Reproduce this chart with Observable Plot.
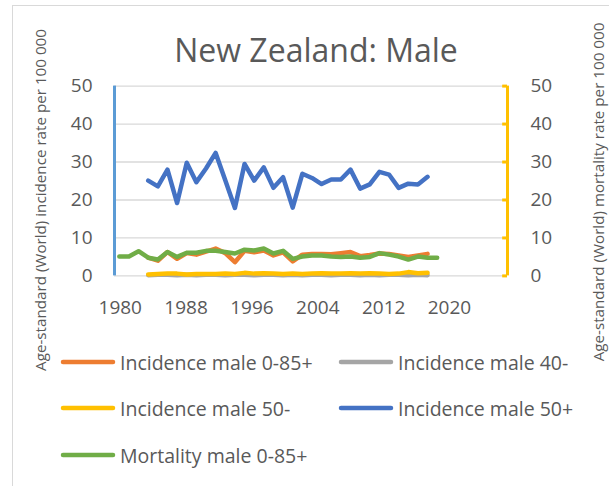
<!DOCTYPE html>
<html><head><meta charset="utf-8">
<script src="https://cdn.jsdelivr.net/npm/d3@7"></script>
<script src="https://cdn.jsdelivr.net/npm/@observablehq/plot@0.6"></script>
<style>
body{margin:0;background:#fff;}
#wrap{position:relative;width:609px;height:486px;overflow:hidden;font-family:"Open Sans",sans-serif;}
#wrap svg{position:absolute;left:0;top:0;}
</style>
</head><body>
<div id="wrap"></div>
<script>
const titleText = "New Zealand: Male";
const leftTitle = "Age-standard (World) incidence rate per 100 000";
const rightTitle = "Age-standard (World) mortality rate per 100 000";
const xTicks = [1980, 1988, 1996, 2004, 2012, 2020];
const yTicks = [0, 10, 20, 30, 40, 50];
// data (years) axis spanning the plot area, and the displayed label axis spanning the same area
const xDomain = [1979.5, 2020.3];
const labelDomain = [1979.3, 2027.05];

const incYears = [1983,1984,1985,1986,1987,1988,1989,1990,1991,1992,1993,1994,1995,1996,1997,1998,1999,2000,2001,2002,2003,2004,2005,2006,2007,2008,2009,2010,2011,2012];
const mortYears = [1980,1981,1982,1983,1984,1985,1986,1987,1988,1989,1990,1991,1992,1993,1994,1995,1996,1997,1998,1999,2000,2001,2002,2003,2004,2005,2006,2007,2008,2009,2010,2011,2012,2013];

const incAll = [4.8,4.0,6.3,4.5,6.0,5.6,6.4,7.2,6.0,3.6,6.6,6.2,6.7,5.4,6.2,3.8,5.6,5.8,5.8,5.7,6.0,6.3,5.2,5.5,5.9,5.8,5.4,5.0,5.4,5.8];
const inc40 = [0.2,0.3,0.3,0.2,0.3,0.2,0.3,0.3,0.2,0.3,0.3,0.2,0.3,0.3,0.2,0.3,0.2,0.3,0.3,0.2,0.3,0.3,0.2,0.3,0.2,0.3,0.3,0.2,0.3,0.2];
const inc50minus = [0.4,0.5,0.6,0.6,0.4,0.5,0.5,0.5,0.6,0.5,0.8,0.6,0.7,0.6,0.5,0.6,0.5,0.6,0.7,0.6,0.6,0.7,0.6,0.7,0.6,0.5,0.6,1.0,0.7,0.8];
const inc50plus = [25.1,23.6,28.0,19.2,29.8,24.7,28.3,32.4,25.2,17.9,29.5,25.1,28.6,23.2,26.0,18.0,26.9,25.8,24.2,25.4,25.4,28.0,23.0,24.1,27.4,26.7,23.2,24.3,24.1,26.1];
const mortAll = [5.1,5.1,6.5,4.8,4.3,6.3,5.0,6.1,6.1,6.6,6.6,6.3,5.9,6.9,6.7,7.2,5.9,6.6,4.5,5.1,5.4,5.4,5.1,5.0,5.1,4.8,5.0,6.0,5.6,5.1,4.3,5.1,4.8,4.8];

const seriesNames = ["Incidence male 0-85+","Incidence male 40-","Incidence male 50-","Incidence male 50+","Mortality male 0-85+"];
const seriesColors = ["#ED7D31","#A5A5A5","#FFC000","#4472C4","#70AD47"];

const toRows = (years, vals) => years.map((yr, i) => ({year: yr, value: vals[i]}));
const seriesData = [
  toRows(incYears, incAll),
  toRows(incYears, inc40),
  toRows(incYears, inc50minus),
  toRows(incYears, inc50plus),
  toRows(mortYears, mortAll)
];

// position of a label-axis value expressed on the data axis
const labelToData = d3.scaleLinear().domain(labelDomain).range(xDomain);
const dataToLabel = (v) => labelToData.invert(v);
const tickPositions = xTicks.map(t => labelToData(t));

const lineOpts = (i) => ({x: "year", y: "value", stroke: seriesColors[i], strokeWidth: 4.5, strokeLinejoin: "round", strokeLinecap: "round"});

const chart = Plot.plot({
  width: 609, height: 486,
  marginLeft: 114, marginRight: 102, marginTop: 85.6, marginBottom: 210.6,
  x: {domain: xDomain},
  y: {domain: [0, 50]},
  style: {fontFamily: "'Open Sans', sans-serif", fontSize: "19px", color: "#595959", background: "transparent", overflow: "visible"},
  marks: [
    Plot.gridY(yTicks.filter(d => d > 0), {stroke: "#D9D9D9", strokeOpacity: 1, strokeWidth: 1.3}),
    Plot.ruleY([0], {stroke: "#D9D9D9", strokeWidth: 1.3}),
    Plot.axisX({ticks: tickPositions, tickSize: 0, tickPadding: 25, tickFormat: (v) => String(Math.round(dataToLabel(v))), label: null, fontSize: 19}),
    Plot.axisY({anchor: "left", ticks: yTicks, tickSize: 0, tickPadding: 22, label: null, fontSize: 19}),
    Plot.axisY({anchor: "right", ticks: yTicks, tickSize: 0, tickPadding: 23, label: null, fontSize: 19}),
    Plot.line(seriesData[0], lineOpts(0)),
    Plot.line(seriesData[1], lineOpts(1)),
    Plot.line(seriesData[2], lineOpts(2)),
    Plot.line(seriesData[3], lineOpts(3)),
    Plot.line(seriesData[4], lineOpts(4)),
    Plot.ruleX([xDomain[0]], {y1: 0, y2: 50, stroke: "#5B9BD5", strokeWidth: 3}),
    Plot.ruleX([xDomain[1]], {y1: 0, y2: 50, stroke: "#FFC000", strokeWidth: 3}),
    Plot.ruleY(yTicks, {x1: xDomain[1] - 0.5, x2: xDomain[1], stroke: "#FFC000", strokeWidth: 3})
  ]
});

const wrap = document.getElementById("wrap");
wrap.appendChild(chart);

// overlay: border, title, axis titles, legend
const svg = d3.select(wrap).append("svg").attr("width", 609).attr("height", 486)
  .style("font-family", "'Open Sans', sans-serif");
svg.append("rect").attr("x", 12.5).attr("y", 5.5).attr("width", 640).attr("height", 520)
  .attr("fill", "none").attr("stroke", "#D9D9D9").attr("stroke-width", 1);
svg.append("text").attr("x", 316).attr("y", 62).attr("text-anchor", "middle")
  .attr("font-size", 32).attr("fill", "#595959").text(titleText);
svg.append("text").attr("transform", "translate(40,200) rotate(-90)").attr("text-anchor", "middle")
  .attr("dominant-baseline", "central").attr("font-size", 15.2).attr("fill", "#595959").text(leftTitle);
svg.append("text").attr("transform", "translate(598,192) rotate(-90)").attr("text-anchor", "middle")
  .attr("dominant-baseline", "central").attr("font-size", 15.2).attr("fill", "#595959").text(rightTitle);

const legendPos = [[61, 362], [339, 362], [61, 408], [339, 408], [61, 455]];
seriesNames.forEach((name, i) => {
  const [lx, ly] = legendPos[i];
  svg.append("line").attr("x1", lx + 2).attr("x2", lx + 52).attr("y1", ly).attr("y2", ly)
    .attr("stroke", seriesColors[i]).attr("stroke-width", 4.5).attr("stroke-linecap", "round");
  svg.append("text").attr("x", lx + 59).attr("y", ly).attr("dominant-baseline", "central")
    .attr("font-size", 19.5).attr("fill", "#595959").text(name);
});
</script>
</body></html>
